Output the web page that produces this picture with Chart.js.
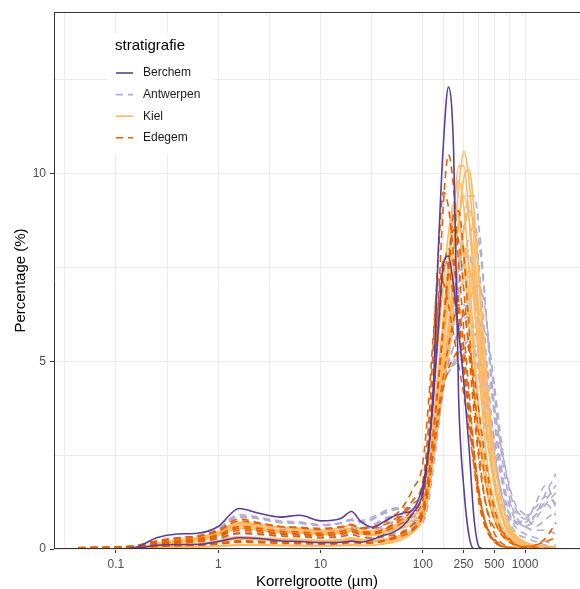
<!DOCTYPE html>
<html>
<head>
<meta charset="utf-8">
<script src="https://cdn.jsdelivr.net/npm/chart.js@4"></script>
<style>
html, body { margin: 0; padding: 0; background: #fff; }
#wrap { width: 580px; height: 589px; position: relative; }
</style>
</head>
<body>
<div id="wrap"><canvas id="chart_korrelgrootte"></canvas></div>
<script>
// grain size classes (µm)
const sizes = [0.043, 0.065, 0.1, 0.16, 0.25, 0.4, 0.63, 1, 1.6, 2.5, 4, 6.3, 10, 16, 20, 25, 32, 40, 50, 63, 80,
  100, 113, 126, 142, 159, 178, 200, 224, 252, 283, 317, 356, 400, 448, 504, 565, 635, 713, 800, 1000, 1260, 1600, 2000];

const berchem = [
  [0,0,0,0.02,0.1,0.12,0.12,0.2,0.3,0.28,0.22,0.2,0.17,0.18,0.21,0.18,0.25,0.35,0.43,0.6,0.95, 1.5,2.6,4.2,8.0,10.8,12.3,10.6,4.0,1.6,0.35,0,0,0,0,0,0,0,0,0,0,0,0,0],
  [0,0,0,0.05,0.3,0.4,0.42,0.6,1.08,0.95,0.85,0.9,0.75,0.82,1.0,0.72,0.58,0.7,0.85,0.95,1.05, 1.7,2.6,3.9,5.9,7.6,7.8,7.0,5.8,4.4,2.7,0.8,0.05,0,0,0,0,0,0,0,0,0,0,0]
];

const antwerpen = [
  [0,0,0,0.03,0.15,0.22,0.28,0.4,0.6,0.58,0.52,0.5,0.45,0.5,0.58,0.55,0.62,0.75,0.82,0.86,0.88, 0.9,1.6,2.6,3.7,4.6,5.5,6.5,7.6,8.6,9.4,9.4,8.5,6.9,5.0,3.4,2.2,1.4,0.9,0.6,0.4,0.3,0.2,0.1],
  [0,0,0,0.02,0.1,0.15,0.18,0.28,0.42,0.4,0.36,0.35,0.32,0.36,0.42,0.4,0.45,0.55,0.62,0.7,0.75, 0.8,1.4,2.4,3.4,4.3,5.1,6.0,6.9,7.7,8.3,8.6,8.1,6.8,5.2,3.7,2.5,1.6,1.1,0.8,0.6,0.8,1.2,1.5],
  [0,0,0,0.05,0.2,0.3,0.35,0.55,0.92,0.85,0.75,0.72,0.65,0.7,0.78,0.72,0.8,0.95,1.05,1.1,1.05, 1.0,1.7,2.7,3.8,4.7,5.5,6.3,7.1,7.7,7.8,7.3,6.2,4.9,3.6,2.5,1.7,1.2,0.9,0.7,0.6,0.9,1.5,2.0],
  [0,0,0,0.01,0.05,0.08,0.1,0.15,0.22,0.22,0.2,0.2,0.18,0.2,0.25,0.25,0.3,0.38,0.48,0.58,0.65, 0.8,1.4,2.3,3.3,4.3,4.9,5.4,5.9,6.3,6.6,6.9,7.0,6.5,5.4,4.1,2.9,1.9,1.3,0.9,0.6,0.5,0.5,0.4],
  [0,0,0,0.04,0.18,0.27,0.33,0.5,0.85,0.8,0.7,0.68,0.62,0.68,0.76,0.7,0.78,0.92,1.02,1.08,1.1, 1.1,1.9,3.0,4.1,4.9,5.5,6.0,6.4,6.5,6.2,5.5,4.5,3.4,2.5,1.8,1.3,1.0,0.8,0.7,0.8,1.1,1.4,1.2],
  [0,0,0,0.02,0.09,0.14,0.17,0.26,0.4,0.38,0.34,0.33,0.3,0.34,0.4,0.38,0.44,0.52,0.6,0.68,0.74, 0.9,1.5,2.4,3.4,4.4,4.7,5.0,5.2,5.4,5.6,5.7,5.8,5.8,5.3,4.3,3.2,2.2,1.5,1.1,0.8,0.9,1.3,1.7],
  [0,0,0,0.03,0.14,0.2,0.26,0.38,0.56,0.54,0.48,0.46,0.42,0.47,0.55,0.52,0.58,0.68,0.72,0.7,0.66, 0.8,1.4,2.4,3.5,4.6,5.6,6.5,7.4,8.0,7.9,7.0,5.6,4.0,2.7,1.7,1.1,0.7,0.45,0.3,0.15,0.1,0.08,0.05],
  [0,0,0,0.05,0.19,0.28,0.34,0.52,0.88,0.82,0.72,0.7,0.64,0.7,0.8,0.76,0.85,0.98,1.08,1.1,1.05, 1.0,1.7,2.6,3.6,4.5,4.8,4.9,5.0,5.1,5.2,5.2,5.0,4.5,3.7,2.9,2.1,1.5,1.2,1.0,0.9,1.0,1.2,0.9],
  [0,0,0,0.03,0.16,0.23,0.29,0.42,0.62,0.6,0.54,0.52,0.47,0.52,0.6,0.57,0.64,0.78,0.88,0.92,0.92, 0.9,1.6,2.6,3.6,4.5,5.0,5.4,5.8,6.1,6.2,5.9,5.2,4.3,3.3,2.4,1.7,1.2,0.9,0.75,0.7,1.2,1.7,1.1],
  [0,0,0,0.01,0.04,0.07,0.09,0.13,0.2,0.2,0.18,0.17,0.16,0.18,0.22,0.22,0.26,0.32,0.4,0.48,0.55, 0.7,1.2,2.1,3.2,4.4,5.6,6.7,7.7,8.5,9.0,8.7,7.5,5.8,4.1,2.7,1.7,1.1,0.7,0.45,0.3,0.2,0.1,0.05],
  [0,0,0,0.02,0.11,0.16,0.2,0.3,0.45,0.43,0.39,0.37,0.34,0.38,0.45,0.43,0.5,0.6,0.7,0.8,0.85, 0.9,1.5,2.4,3.4,4.4,4.7,4.9,5.1,5.2,5.3,5.4,5.4,5.1,4.5,3.7,2.9,2.2,1.6,1.2,0.9,0.6,0.8,1.0]
];

const kiel = [
  [0,0,0,0.02,0.1,0.18,0.25,0.4,0.6,0.55,0.48,0.45,0.4,0.45,0.5,0.4,0.36,0.4,0.46,0.55,0.68, 0.9,1.6,2.7,4.0,5.3,6.6,8.1,9.6,10.6,9.8,8.2,6.0,4.0,2.6,1.6,1.0,0.6,0.35,0.22,0.1,0.06,0.04,0.02],
  [0,0,0,0.03,0.13,0.22,0.3,0.46,0.72,0.66,0.56,0.52,0.46,0.5,0.56,0.46,0.42,0.46,0.52,0.62,0.78, 1.0,1.8,3.0,4.4,5.8,7.3,8.9,10.2,10.2,8.8,6.8,4.7,3.0,1.9,1.2,0.75,0.45,0.28,0.18,0.08,0.05,0.03,0.02],
  [0,0,0,0,0.05,0.1,0.14,0.2,0.3,0.28,0.25,0.22,0.2,0.22,0.27,0.22,0.2,0.22,0.28,0.36,0.5, 0.8,1.4,2.4,3.6,4.6,5.8,7.2,8.7,9.9,10.1,9.0,7.0,4.8,3.1,1.9,1.2,0.7,0.42,0.25,0.12,0.07,0.04,0.02],
  [0,0,0,0.02,0.11,0.2,0.27,0.42,0.65,0.6,0.5,0.47,0.43,0.48,0.54,0.44,0.4,0.45,0.55,0.7,0.9, 1.2,2.1,3.4,4.8,6.2,7.7,9.1,9.8,9.1,7.4,5.4,3.6,2.3,1.4,0.9,0.55,0.33,0.2,0.12,0.06,0.04,0.02,0.01],
  [0,0,0,0,0.02,0.05,0.06,0.08,0.12,0.12,0.1,0.1,0.09,0.1,0.12,0.1,0.1,0.13,0.17,0.25,0.45, 0.9,1.6,2.6,3.8,4.9,6.0,7.4,8.7,9.4,8.8,7.5,5.6,3.9,2.6,1.7,1.1,0.7,0.45,0.3,0.15,0.1,0.06,0.04],
  [0,0,0,0,0.04,0.09,0.12,0.18,0.26,0.25,0.22,0.2,0.18,0.2,0.24,0.2,0.19,0.2,0.24,0.3,0.45, 0.8,1.4,2.4,3.5,4.5,5.4,6.5,7.6,8.5,9.0,8.6,7.2,5.4,3.7,2.4,1.5,0.9,0.55,0.35,0.15,0.08,0.05,0.03],
  [0,0,0,0.03,0.14,0.24,0.3,0.44,0.68,0.64,0.58,0.55,0.5,0.56,0.64,0.52,0.48,0.52,0.6,0.72,0.9, 1.1,2.0,3.2,4.5,5.7,7.0,8.0,8.5,8.0,6.7,5.0,3.5,2.3,1.5,0.95,0.6,0.38,0.24,0.15,0.07,0.04,0.02,0.01],
  [0,0,0,0,0.01,0.03,0.05,0.07,0.1,0.1,0.09,0.08,0.08,0.09,0.1,0.09,0.1,0.14,0.2,0.32,0.55, 1.0,1.7,2.7,3.8,4.8,5.8,6.8,7.6,8.0,7.6,6.5,5.0,3.6,2.5,1.7,1.1,0.7,0.45,0.3,0.15,0.1,0.07,0.05],
  [0,0,0,0,0.06,0.11,0.15,0.22,0.33,0.3,0.27,0.25,0.23,0.25,0.3,0.25,0.23,0.25,0.3,0.38,0.5, 0.9,1.5,2.5,3.5,4.4,5.2,6.0,6.7,7.2,7.4,7.0,6.0,4.7,3.4,2.3,1.5,0.95,0.6,0.38,0.18,0.1,0.06,0.04],
  [0,0,0,0.02,0.09,0.16,0.22,0.36,0.55,0.5,0.44,0.42,0.38,0.42,0.47,0.4,0.38,0.44,0.55,0.75,1.05, 1.5,2.6,4.0,5.6,7.1,8.4,9.2,8.9,7.7,6.0,4.3,2.9,1.9,1.2,0.75,0.45,0.28,0.17,0.1,0.05,0.03,0.02,0.01]
];

const edegem = [
  [0.02,0.03,0.04,0.08,0.15,0.2,0.25,0.35,0.55,0.5,0.42,0.4,0.38,0.42,0.48,0.4,0.4,0.45,0.55,0.7,0.95, 1.3,2.4,4.0,6.6,9.2,10.5,9.6,7.6,5.8,4.2,2.6,1.5,0.8,0.4,0.2,0.1,0.05,0.03,0.02,0.01,0,0,0],
  [0.03,0.04,0.05,0.1,0.22,0.3,0.35,0.5,0.8,0.7,0.6,0.58,0.55,0.6,0.66,0.55,0.55,0.62,0.75,0.95,1.3, 1.8,3.2,5.3,7.9,9.5,9.1,7.8,6.3,4.8,3.5,2.2,1.2,0.65,0.35,0.18,0.09,0.05,0.03,0.01,0,0,0,0],
  [0.04,0.05,0.05,0.06,0.08,0.1,0.12,0.15,0.22,0.2,0.18,0.17,0.15,0.17,0.2,0.18,0.18,0.22,0.3,0.45,0.65, 1.0,1.8,3.0,4.5,6.0,7.5,8.9,9.0,7.8,5.9,4.0,2.5,1.4,0.75,0.4,0.2,0.1,0.05,0.03,0.01,0,0,0],
  [0.02,0.03,0.03,0.07,0.14,0.19,0.23,0.33,0.5,0.46,0.4,0.38,0.36,0.4,0.46,0.4,0.42,0.5,0.65,0.9,1.2, 1.6,2.8,4.5,6.5,7.7,7.5,6.7,5.8,4.8,3.6,2.4,1.4,0.75,0.4,0.2,0.1,0.05,0.03,0.01,0,0,0,0],
  [0.03,0.04,0.05,0.1,0.2,0.28,0.33,0.47,0.75,0.68,0.6,0.56,0.52,0.58,0.64,0.56,0.58,0.68,0.85,1.1,1.6, 2.3,3.8,5.6,7.2,7.1,6.5,5.7,4.9,4.1,3.2,2.2,1.4,0.8,0.45,0.25,0.12,0.06,0.03,0.02,0.01,0,0,0],
  [0.03,0.04,0.04,0.05,0.07,0.09,0.1,0.13,0.18,0.17,0.15,0.14,0.13,0.14,0.17,0.15,0.16,0.2,0.28,0.42,0.65, 1.1,1.9,3.0,4.4,5.9,7.4,8.5,8.2,6.9,5.2,3.6,2.3,1.4,0.85,0.55,0.5,0.4,0.25,0.12,0.05,0.1,0.3,0.7],
  [0.01,0.02,0.02,0.04,0.07,0.09,0.11,0.14,0.2,0.19,0.17,0.16,0.15,0.16,0.19,0.17,0.17,0.2,0.26,0.35,0.5, 0.9,1.6,2.6,3.7,4.6,5.4,6.1,6.5,6.3,5.4,4.2,3.0,2.0,1.25,0.75,0.45,0.28,0.17,0.1,0.05,0.03,0.02,0.01],
  [0.02,0.03,0.04,0.09,0.17,0.23,0.28,0.38,0.6,0.55,0.47,0.45,0.42,0.47,0.53,0.45,0.45,0.5,0.62,0.8,1.05, 1.4,2.5,4.0,5.9,7.4,8.0,7.6,6.6,5.3,3.9,2.6,1.5,0.8,0.4,0.2,0.1,0.05,0.03,0.02,0.01,0,0,0],
  [0.02,0.03,0.03,0.06,0.12,0.16,0.2,0.28,0.42,0.4,0.35,0.33,0.3,0.33,0.38,0.32,0.3,0.32,0.36,0.42,0.55, 0.9,1.6,2.5,3.5,4.3,4.8,5.1,5.3,5.5,5.3,4.6,3.6,2.6,1.7,1.05,0.6,0.35,0.2,0.12,0.06,0.1,0.2,0.3]
];

const groupNames = ['Berchem', 'Antwerpen', 'Kiel', 'Edegem'];
const groupColors = ['#5E3C99', '#B2ABD2', '#FDB863', '#E66101'];
const groupDash = [[], [7, 5], [], [7, 5]];
const groupSeries = [berchem, antwerpen, kiel, edegem];
const drawOrder = [0, 3, 2, 1]; // first one ends up on top

const xMajor = [0.1, 1, 10, 100, 250, 500, 1000];
const xMajorLabels = ['0.1', '1', '10', '100', '250', '500', '1000'];
const xMinor = [0.0316, 0.316, 3.16, 31.6, 158, 354, 707];
const yMajor = [0, 5, 10];
const yMinor = [2.5, 7.5, 12.5];

const fontFamily = '"Liberation Sans", Arial, sans-serif';
Chart.defaults.font.family = fontFamily;

const datasets = [];
drawOrder.forEach(g => {
  groupSeries[g].forEach((vals, k) => {
    datasets.push({
      label: groupNames[g] + ' ' + (k + 1),
      data: sizes.map((s, i) => ({ x: s, y: vals[i] })),
      borderColor: groupColors[g],
      borderDash: groupDash[g],
      borderWidth: 1.6,
      pointRadius: 0,
      fill: false,
      cubicInterpolationMode: 'monotone'
    });
  });
});

const framePlugin = {
  id: 'panelFrame',
  afterDatasetsDraw(chart) {
    const { ctx, chartArea: a } = chart;
    ctx.save();
    ctx.strokeStyle = '#333333';
    ctx.lineWidth = 1;
    ctx.beginPath();
    ctx.moveTo(Math.round(a.left) + 0.5, Math.round(a.top));
    ctx.lineTo(Math.round(a.left) + 0.5, Math.round(a.bottom));
    ctx.moveTo(Math.round(a.left), Math.round(a.top) + 0.5);
    ctx.lineTo(a.right, Math.round(a.top) + 0.5);
    ctx.moveTo(Math.round(a.left), Math.round(a.bottom) - 0.5);
    ctx.lineTo(a.right, Math.round(a.bottom) - 0.5);
    ctx.stroke();
    ctx.restore();
  }
};

const legendPlugin = {
  id: 'insideLegend',
  afterDraw(chart) {
    const ctx = chart.ctx;
    ctx.save();
    ctx.fillStyle = '#FFFFFF';
    ctx.fillRect(107, 33, 107, 122);
    ctx.fillStyle = '#000000';
    ctx.textBaseline = 'middle';
    ctx.font = '15px ' + fontFamily;
    ctx.fillText('stratigrafie', 115, 46);
    groupNames.forEach((name, i) => {
      const y = 73 + i * 21.6;
      ctx.strokeStyle = groupColors[i];
      ctx.lineWidth = 1.6;
      ctx.setLineDash(groupDash[i]);
      ctx.beginPath();
      ctx.moveTo(116, y);
      ctx.lineTo(133, y);
      ctx.stroke();
      ctx.setLineDash([]);
      ctx.fillStyle = '#1A1A1A';
      ctx.font = '12px ' + fontFamily;
      ctx.fillText(name, 143, y);
    });
    ctx.restore();
  }
};

const chart_korrelgrootte = new Chart(document.getElementById('chart_korrelgrootte'), {
  type: 'line',
  data: { datasets: datasets },
  options: {
    animation: false,
    responsive: true,
    maintainAspectRatio: false,
    devicePixelRatio: 1,
    layout: { padding: { top: 12, right: -6, bottom: 0, left: 0 } },
    plugins: {
      legend: { display: false },
      tooltip: { enabled: false }
    },
    scales: {
      x: {
        type: 'logarithmic',
        min: 0.0248,
        max: 3440,
        afterBuildTicks: s => {
          s.ticks = xMinor.concat(xMajor).sort((a, b) => a - b).map(v => ({ value: v }));
        },
        afterFit: s => { s.height = 40; },
        ticks: {
          autoSkip: false,
          maxRotation: 0,
          color: '#4D4D4D',
          font: { size: 12 },
          padding: 4,
          callback: v => {
            const i = xMajor.indexOf(v);
            return i >= 0 ? xMajorLabels[i] : '';
          }
        },
        grid: {
          color: '#EBEBEB',
          lineWidth: 1,
          tickLength: 4,
          tickColor: ctx => (ctx.tick && xMajor.includes(ctx.tick.value)) ? '#333333' : 'rgba(0,0,0,0)'
        },
        border: { display: false },
        title: {
          display: true,
          text: 'Korrelgrootte (µm)',
          color: '#000000',
          font: { size: 15 },
          padding: { top: 0, bottom: -2 }
        }
      },
      y: {
        type: 'linear',
        min: 0,
        max: 14.3,
        afterBuildTicks: s => {
          s.ticks = yMinor.concat(yMajor).sort((a, b) => a - b).map(v => ({ value: v }));
        },
        afterFit: s => { s.width = 54; },
        ticks: {
          autoSkip: false,
          color: '#4D4D4D',
          font: { size: 12 },
          padding: 4,
          callback: v => yMajor.includes(v) ? String(v) : ''
        },
        grid: {
          color: '#EBEBEB',
          lineWidth: 1,
          tickLength: 4,
          tickColor: ctx => (ctx.tick && yMajor.includes(ctx.tick.value)) ? '#333333' : 'rgba(0,0,0,0)'
        },
        border: { display: false },
        title: {
          display: true,
          text: 'Percentage (%)',
          color: '#000000',
          font: { size: 15 },
          padding: { top: 12, bottom: 0 }
        }
      }
    }
  },
  plugins: [framePlugin, legendPlugin, {
    id: 'whiteBackground',
    beforeDraw: (chart) => {
      const ctx = chart.canvas.getContext('2d');
      ctx.save();
      ctx.globalCompositeOperation = 'destination-over';
      ctx.fillStyle = 'white';
      ctx.fillRect(0, 0, chart.canvas.width, chart.canvas.height);
      ctx.restore();
    }
  }]
});
</script>
</body>
</html>
